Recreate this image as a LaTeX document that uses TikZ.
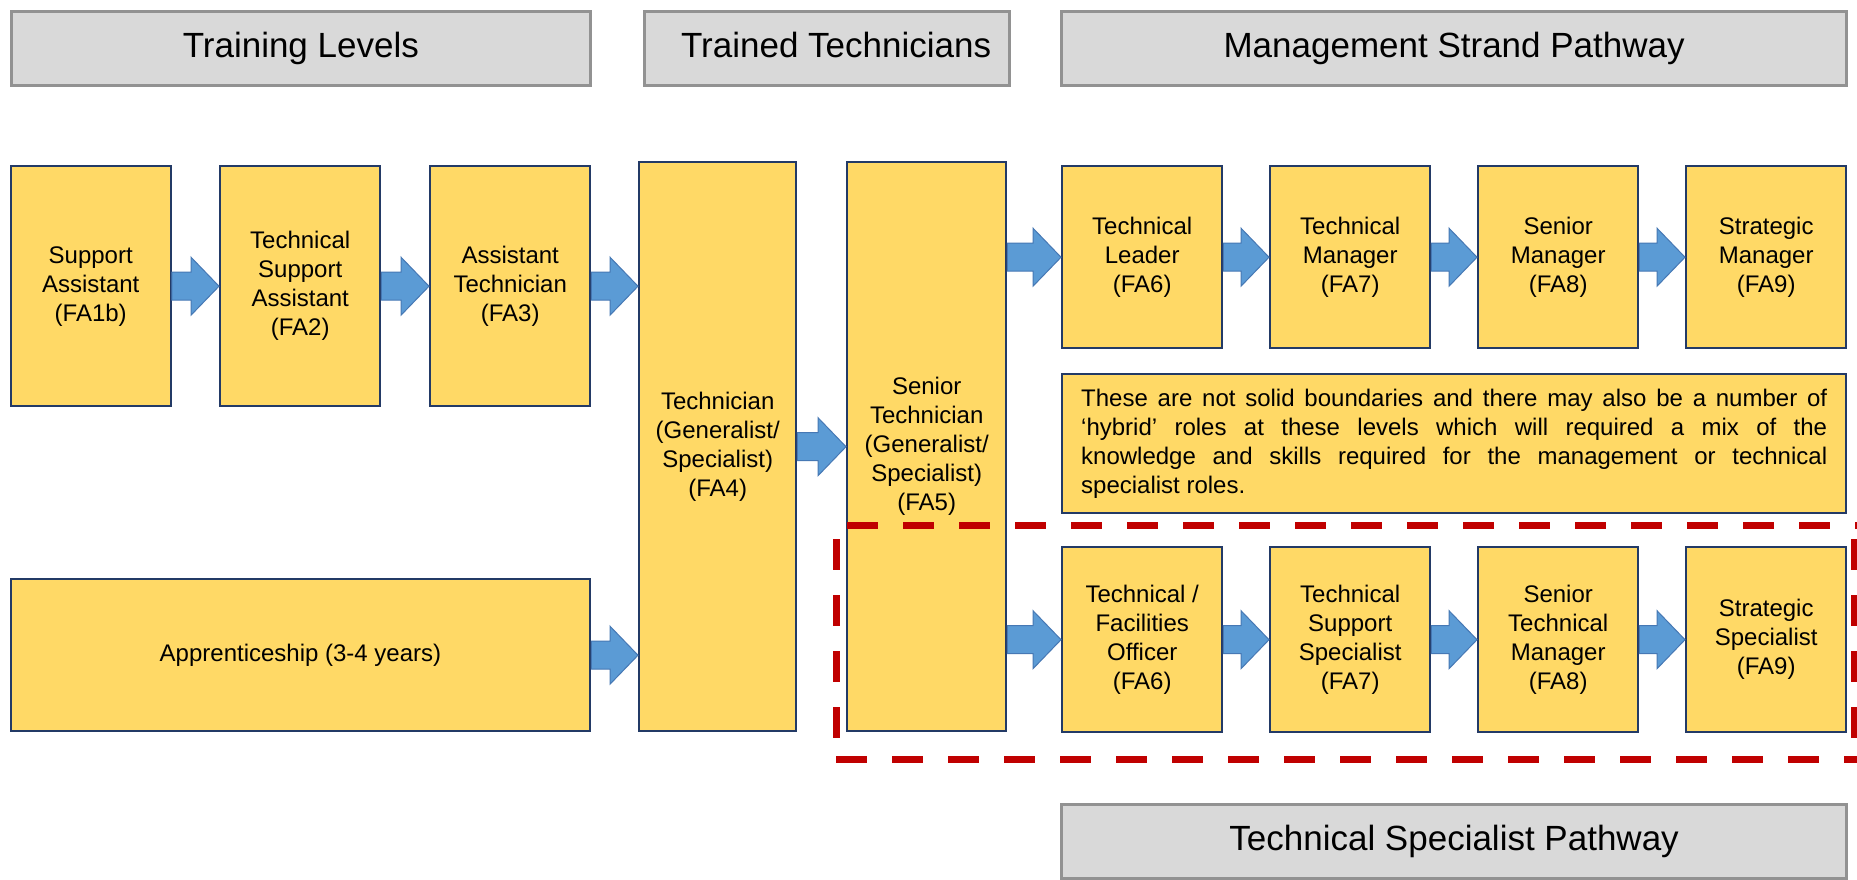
\documentclass[tikz,border=0pt]{standalone}
\usepackage{fontspec}
\setmainfont{Liberation Sans}
\usetikzlibrary{calc}
\definecolor{boxfill}{HTML}{FFD966}
\definecolor{boxline}{HTML}{233A66}
\definecolor{hdrfill}{HTML}{D9D9D9}
\definecolor{hdrline}{HTML}{929292}
\definecolor{arrfill}{HTML}{5B9BD5}
\definecolor{arrline}{HTML}{4678B4}
\definecolor{dashred}{HTML}{C00000}
\newcommand{\blkarrow}[2]{%
  \draw[barrow] let \p1=(#1), \p2=(#2) in
    (\x1,\y1+7pt) -- (\x2-14pt,\y1+7pt) -- (\x2-14pt,\y1+14.5pt) -- (\x2,\y1)
    -- (\x2-14pt,\y1-14.5pt) -- (\x2-14pt,\y1-7pt) -- (\x1,\y1-7pt) -- cycle;}
\begin{document}
\begin{tikzpicture}[x=0.5pt,y=-0.5pt,
  hdr/.style={draw=hdrline, fill=hdrfill, line width=1.6pt, anchor=north west,
    inner sep=0pt, font=\fontsize{17.5}{21}\selectfont, minimum height=37pt,
    text height=12.5pt, text depth=3.5pt},
  role/.style={draw=boxline, fill=boxfill, line width=1.2pt, anchor=north west,
    inner sep=2pt, align=center, font=\fontsize{12}{14.5}\selectfont},
  barrow/.style={draw=arrline, fill=arrfill, line width=0.5pt},
  redline/.style={draw=dashred, line width=3.5pt, dash pattern=on 15.5pt off 12.5pt}
]
\useasboundingbox (0,0) rectangle (1857,879);
\fill[white] (0,0) rectangle (1857,879);

% headers
\node[hdr, minimum width=289.75pt] (h1) at (9.5,9.5) {Training Levels};
\node[hdr, minimum width=182.5pt] (h2) at (643,9.5) {\hspace*{9pt}Trained Technicians};
\node[hdr, minimum width=392.5pt] (h3) at (1060,9.5) {Management Strand Pathway};
\node[hdr, minimum width=392.5pt] (h4) at (1060,803) {Technical Specialist Pathway};

% training levels
\node[role, minimum width=80pt, minimum height=120pt] (sa) at (9.5,165) {Support\\Assistant\\(FA1b)};
\node[role, minimum width=80pt, minimum height=120pt] (tsa) at (219,165) {Technical\\Support\\Assistant\\(FA2)};
\node[role, minimum width=80pt, minimum height=120pt] (at) at (429,165) {Assistant\\Technician\\(FA3)};
\node[role, minimum width=289.75pt, minimum height=76pt] (app) at (9.5,578) {Apprenticeship (3-4 years)};

% trained technicians
\node[role, minimum width=78.5pt, minimum height=284.5pt] (fa4) at (638,161) {Technician\\(Generalist/\\Specialist)\\(FA4)};
\node[role, minimum width=79.5pt, minimum height=284.5pt] (fa5) at (846,161) {Senior\\Technician\\(Generalist/\\Specialist)\\(FA5)};

% management strand
\node[role, minimum width=80pt, minimum height=91pt] (tl) at (1061,165) {Technical\\Leader\\(FA6)};
\node[role, minimum width=80pt, minimum height=91pt] (tm) at (1269,165) {Technical\\Manager\\(FA7)};
\node[role, minimum width=80pt, minimum height=91pt] (sm) at (1477,165) {Senior\\Manager\\(FA8)};
\node[role, minimum width=80pt, minimum height=91pt] (stm) at (1685,165) {Strategic\\Manager\\(FA9)};

% note
\node[role, minimum width=392pt, minimum height=69.5pt, text width=373pt, align=justify] (note) at (1061,373)
 {These are not solid boundaries and there may also be a number of\linebreak
  ‘hybrid’ roles at these levels which will required a mix of the\linebreak
  knowledge and skills required for the management or technical\linebreak
  specialist roles.};

% technical specialist
\node[role, minimum width=80pt, minimum height=92.5pt] (tfo) at (1061,546) {Technical /\\Facilities\\Officer\\(FA6)};
\node[role, minimum width=80pt, minimum height=92.5pt] (tss) at (1269,546) {Technical\\Support\\Specialist\\(FA7)};
\node[role, minimum width=80pt, minimum height=92.5pt] (stcm) at (1477,546) {Senior\\Technical\\Manager\\(FA8)};
\node[role, minimum width=80pt, minimum height=92.5pt] (ss) at (1685,546) {Strategic\\Specialist\\(FA9)};

% arrows
\blkarrow{sa.east}{tsa.west}
\blkarrow{tsa.east}{at.west}
\blkarrow{at.east}{at.east -| fa4.west}
\blkarrow{app.east}{app.east -| fa4.west}
\blkarrow{fa4.east}{fa5.west}
\blkarrow{tl.west -| fa5.east}{tl.west}
\blkarrow{tl.east}{tm.west}
\blkarrow{tm.east}{sm.west}
\blkarrow{sm.east}{stm.west}
\blkarrow{tfo.west -| fa5.east}{tfo.west}
\blkarrow{tfo.east}{tss.west}
\blkarrow{tss.east}{stcm.west}
\blkarrow{stcm.east}{ss.west}

% dashed region
\draw[redline] (847,525) -- (1860,525);
\draw[redline] (836,539) -- (836,760);
\draw[redline] (836,759) -- (1860,759);
\draw[redline] (1854,539) -- (1854,759);
\end{tikzpicture}
\end{document}
